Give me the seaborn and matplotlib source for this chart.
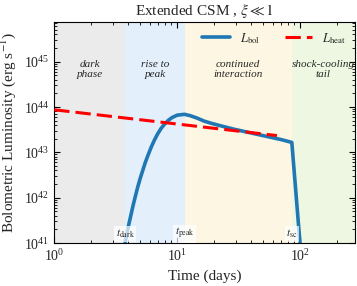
import matplotlib
matplotlib.use("Agg")
import matplotlib.pyplot as plt
import matplotlib.ticker as mticker
import numpy as np
import pandas as pd
import seaborn as sns

# light curve (days, erg/s)
t_bol = [3.70, 3.767, 3.89, 4.027, 4.169, 4.365, 4.571, 4.786, 5.012, 5.248,
         5.495, 5.821, 6.166, 6.531, 6.918, 7.413, 7.943, 8.511, 9.12, 10.0,
         11.48, 12.76, 14.45, 16.6, 19.05, 22.39, 28.18, 35.48, 44.67, 56.23,
         70.79, 85.9, 100.8]
L_bol = [8e40, 1.0e41, 1.55e41, 2.45e41, 3.72e41, 6.46e41, 1.07e42, 1.74e42,
         2.69e42, 3.98e42, 5.89e42, 8.91e42, 1.32e43, 1.86e43, 2.51e43,
         3.39e43, 4.27e43, 5.13e43, 5.89e43, 6.61e43, 6.92e43, 6.46e43,
         5.75e43, 4.9e43, 4.37e43, 3.89e43, 3.31e43, 2.88e43, 2.51e43,
         2.19e43, 1.91e43, 1.66e43, 8e40]
t_heat = [1.0, 65.0]
L_heat = [8.7e43, 2.35e43]

# phase boundaries (days)
t_dark, t_peak, t_sc = 3.78, 11.5, 86.0
phase_edges = [1.0, t_dark, t_peak, t_sc, 280.0]
phase_names = ["dark\nphase", "rise to\npeak", "continued\ninteraction",
               "shock-cooling\ntail"]
phase_colors = ["#ebebeb", "#e3effb", "#fdf6e2", "#eef7e2"]
marker_times = [t_dark, t_peak, t_sc]
marker_labels = [r"$t_{\rm dark}$", r"$t_{\rm peak}$", r"$t_{\rm sc}$"]

sns.set_theme(style="ticks")
plt.rcParams["font.family"] = ["Liberation Serif", "DejaVu Serif"]
plt.rcParams["mathtext.fontset"] = "stix"

fig = plt.figure(figsize=(3.57, 2.86), dpi=100)
ax = fig.add_axes([0.152, 0.150, 0.842, 0.773])

for i, name in enumerate(phase_names):
    lo, hi = phase_edges[i], phase_edges[i + 1]
    ax.axvspan(lo, hi, color=phase_colors[i], lw=0, zorder=0)
    ax.text(np.sqrt(lo * hi), 0.785, name, transform=ax.get_xaxis_transform(),
            ha="center", va="center", style="italic", fontsize=8, zorder=5,
            linespacing=1.1)

df_bol = pd.DataFrame({"t": t_bol, "L": L_bol})
df_heat = pd.DataFrame({"t": t_heat, "L": L_heat})
sns.lineplot(data=df_bol, x="t", y="L", sort=False, color="#1f77b4", lw=2.6,
             ax=ax, label=r"$L_{\rm bol}$", zorder=3)
sns.lineplot(data=df_heat, x="t", y="L", sort=False, color="red", lw=2.2,
             ax=ax, label=r"$L_{\rm heat}$", zorder=4)
ax.lines[0].set_solid_joinstyle("round")
ax.lines[-1].set_linestyle((0, (5, 2)))

for tm, lab in zip(marker_times, marker_labels):
    ax.text(tm, 1.6e41, lab, ha="center", va="center", fontsize=8, zorder=6,
            bbox=dict(boxstyle="square,pad=0.15", fc="white", ec="none",
                      alpha=0.7))

ax.set_xscale("log")
ax.set_yscale("log")
ax.set_xlim(1, 280)
ax.set_ylim(1e41, 7.5e45)
for axis in (ax.xaxis, ax.yaxis):
    axis.set_major_locator(mticker.LogLocator(base=10, numticks=20))
    axis.set_minor_locator(mticker.LogLocator(base=10, subs=np.arange(2, 10),
                                              numticks=100))
    axis.set_minor_formatter(mticker.NullFormatter())
ax.set_xlabel("Time (days)", fontsize=11)
ax.set_ylabel(r"Bolometric Luminosity (erg s$^{-1}$)", fontsize=11)
ax.set_title(r"Extended CSM , $\xi \ll 1$", fontsize=11, pad=5)
ax.tick_params(which="both", direction="in", top=True, right=True,
               labelsize=10, color="black")
ax.tick_params(which="major", length=4, width=0.8)
ax.tick_params(which="minor", length=2, width=0.6)
for sp in ax.spines.values():
    sp.set_color("black")
    sp.set_linewidth(0.8)

ax.legend(loc="upper right", ncol=2, frameon=False, fontsize=9,
          handlelength=2.2, handletextpad=0.8, columnspacing=2.0,
          borderaxespad=0.3)

fig.savefig("out.png", dpi=100)
plt.close(fig)
